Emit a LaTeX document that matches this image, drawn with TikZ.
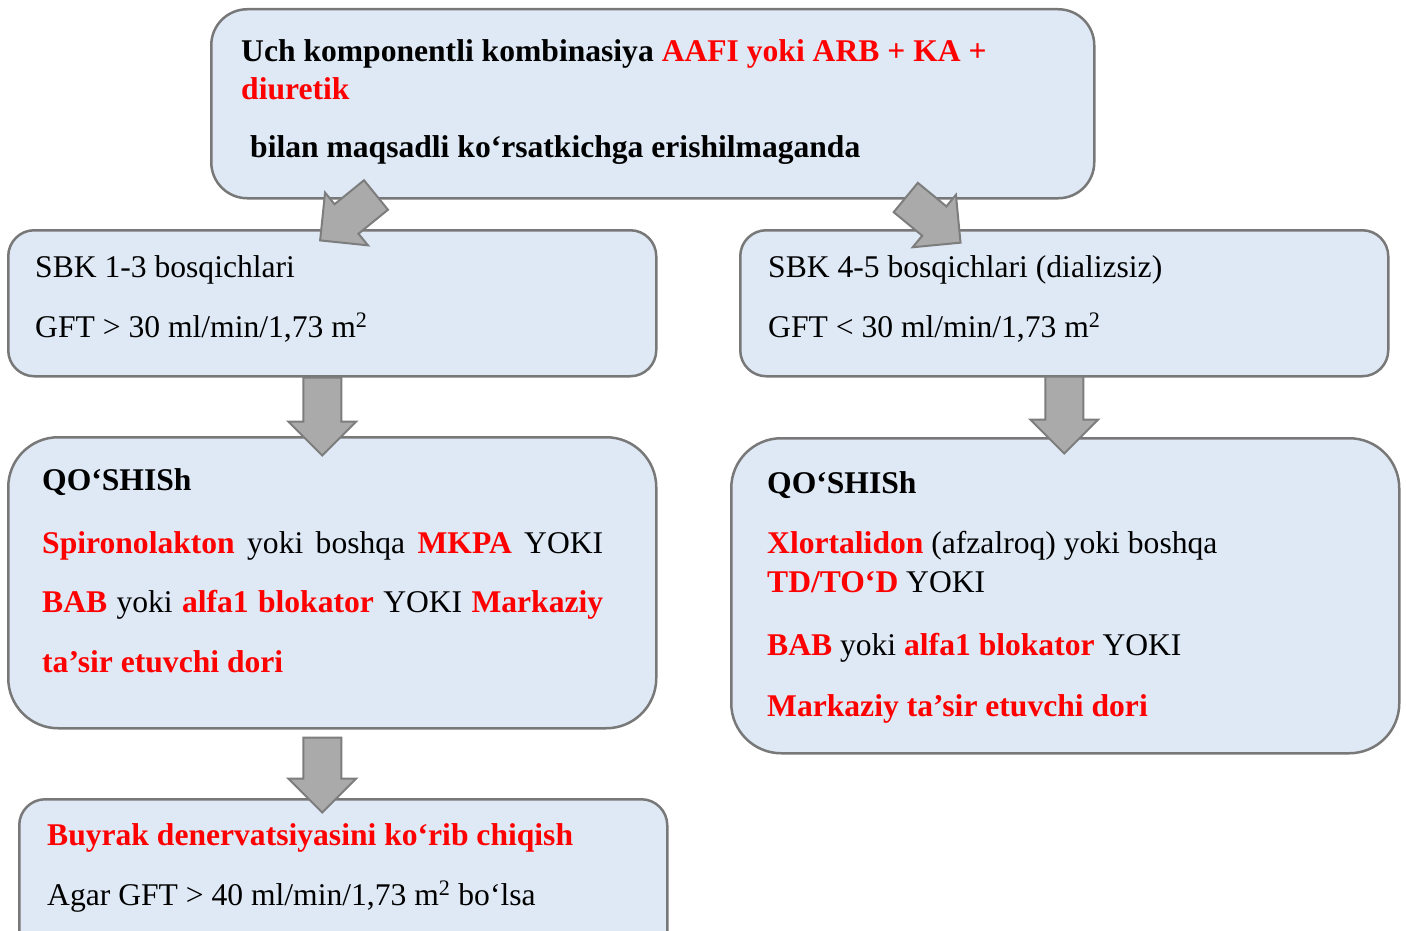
\documentclass[tikz,border=0pt]{standalone}
\usepackage{fontspec}
\setmainfont{Liberation Serif}
\usetikzlibrary{calc}

\definecolor{boxfill}{RGB}{222,233,245}
\definecolor{boxline}{RGB}{120,120,120}
\definecolor{arrfill}{RGB}{171,170,171}
\definecolor{arrline}{RGB}{125,125,125}
\definecolor{hl}{RGB}{255,0,0}

\newcommand\hot[1]{\textcolor{hl}{\textbf{#1}}}

\tikzset{
  panel/.style={draw=boxline, line width=2.5pt, fill=boxfill, anchor=north west, inner sep=0pt},
  txt/.style={anchor=base west, inner sep=0pt, font=\fontsize{31.6}{38}\selectfont},
  fat/.style={draw=arrline, line width=2pt, fill=arrfill, line join=miter},
}

% block arrow: start point, direction (deg), length
\newcommand\fatarrow[3]{%
  \begin{scope}[shift={#1}, rotate=#2]
    \draw[fat] (0,-19) -- (#3-34,-19) -- (#3-34,-34) -- (#3,0)
      -- (#3-34,34) -- (#3-34,19) -- (0,19) -- cycle;
  \end{scope}}

\begin{document}
\begin{tikzpicture}[x=1pt, y=-1pt]
\useasboundingbox (0,0) rectangle (1406,931);
\clip (0,0) rectangle (1406,931);

% panels
\node[panel, rounded corners=36pt, minimum width=883pt, minimum height=189pt] (T) at (210,8) {};
\node[panel, rounded corners=26pt, minimum width=648pt, minimum height=146pt] (A) at (7,229) {};
\node[panel, rounded corners=26pt, minimum width=648pt, minimum height=146pt] (B) at (739,229) {};
\node[panel, rounded corners=50pt, minimum width=648pt, minimum height=291pt] (C) at (7,436) {};
\node[panel, rounded corners=50pt, minimum width=668pt, minimum height=315pt] (D) at (730,437) {};
\node[panel, rounded corners=26pt, minimum width=648pt, minimum height=170pt] (E) at (18,798) {};

% connectors
\fatarrow{($(T.south west)+(166,-4.5)$)}{-140.9}{72}
\fatarrow{($(T.south)+(253,-2)$)}{-39.5}{71}
\fatarrow{($(A.south)+(-10,0)$)}{-90}{78}
\fatarrow{($(B.south)+(0,-1)$)}{-90}{77}
\fatarrow{($(C.south)+(-10,8)$)}{-90}{75}

% top panel text
\node[txt] (t1) at (241,62) {\bfseries Uch komponentli kombinasiya \textcolor{hl}{AAFI yoki ARB + KA +}};
\node[txt] (t2) at (241,100) {\hot{diuretik}};
\node[txt] (t3) at (250,158) {\bfseries bilan maqsadli ko‘rsatkichga erishilmaganda};

% CKD stages 1-3
\node[txt] (a1) at (35,277) {SBK 1-3 bosqichlari};
\node[txt] (a2) at (35,337) {GFT > 30 ml/min/1,73 m\textsuperscript{2}};

% CKD stages 4-5
\node[txt] (b1) at (768,277) {SBK 4-5 bosqichlari (dializsiz)};
\node[txt] (b2) at (768,337) {GFT < 30 ml/min/1,73 m\textsuperscript{2}};

% add-on, left
\node[txt] (c1) at (42,490) {\bfseries QO‘SHISh};
\node[txt] (c2) at (42,553) {\hbox to 561pt{\hot{Spironolakton} yoki boshqa \hot{MKPA} YOKI}};
\node[txt] (c3) at (42,612) {\hbox to 561pt{\hot{BAB} yoki \hot{alfa1 blokator} YOKI \hot{Markaziy}}};
\node[txt] (c4) at (42,672) {\hot{ta’sir etuvchi dori}};

% add-on, right
\node[txt] (d1) at (767,493) {\bfseries QO‘SHISh};
\node[txt] (d2) at (767,553) {\hot{Xlortalidon} (afzalroq) yoki boshqa};
\node[txt] (d3) at (767,592) {\hot{TD/TO‘D} YOKI};
\node[txt] (d4) at (767,655) {\hot{BAB} yoki \hot{alfa1 blokator} YOKI};
\node[txt] (d5) at (767,716) {\hot{Markaziy ta’sir etuvchi dori}};

% renal denervation
\node[txt] (e1) at (47,845) {\hot{Buyrak denervatsiyasini ko‘rib chiqish}};
\node[txt] (e2) at (47,905) {Agar GFT > 40 ml/min/1,73 m\textsuperscript{2} bo‘lsa};
\end{tikzpicture}
\end{document}
